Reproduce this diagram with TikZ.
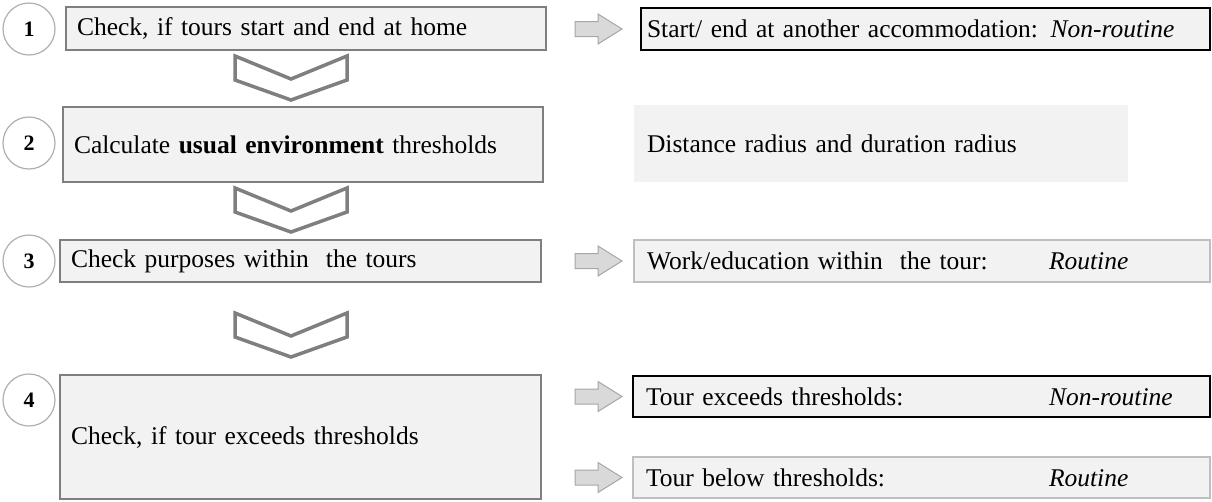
\documentclass[tikz,border=0pt]{standalone}
\usepackage{fontspec}
\setmainfont{Liberation Serif}
\usetikzlibrary{calc}
\definecolor{boxfill}{RGB}{242,242,242}
\definecolor{stepgray}{RGB}{128,126,128}
\definecolor{lightline}{RGB}{191,191,191}
\definecolor{arrowfill}{RGB}{217,217,217}
\definecolor{arrowline}{RGB}{166,166,166}
\definecolor{circline}{RGB}{175,175,175}
\begin{document}
\begin{tikzpicture}[x=1pt, y=-1pt,
    every node/.style={font=\fontsize{25.5}{30}\selectfont, inner ysep=0pt, outer sep=0pt},
    stepbox/.style={draw=stepgray, line width=2.5pt, fill=boxfill, anchor=north west, align=left, inner xsep=11pt},
    resbox/.style={fill=boxfill, line width=2.5pt, anchor=north west, align=left, inner xsep=13pt},
    numcirc/.style={circle, draw=circline, line width=1.2pt, fill=white, minimum size=52pt, inner sep=0pt, font=\fontsize{22}{24}\selectfont\bfseries},
    chevron/.style={draw=stepgray, line width=3.5pt, fill=white, line join=miter},
    blockarr/.style={draw=arrowline, line width=1pt, fill=arrowfill}]
    \useasboundingbox (0,0) rectangle (1212,501);
    % steps on the left
    \node[numcirc] (n1) at (29,29) {1};
    \node[numcirc] (n2) at (29,143) {2};
    \node[numcirc] (n3) at (29,261) {3};
    \node[numcirc] (n4) at (29,400) {4};
    \node[stepbox, text width=458pt, minimum height=43pt] (s1) at (66,7) {Check, if tours start and end at home};
    \node[stepbox, text width=458pt, minimum height=75pt] (s2) at (63,107) {Calculate \textbf{usual environment} thresholds};
    \node[stepbox, text width=459pt, minimum height=42pt] (s3) at (60,240) {Check purposes within\ \ the tours};
    \node[stepbox, text width=459pt, minimum height=124pt] (s4) at (60,375) {Check, if tour exceeds thresholds};
    \foreach \y in {56,188,313}
        \draw[chevron] (235,\y) -- (291,\y+23) -- (347,\y) -- (347,\y+24) -- (291,\y+44) -- (235,\y+24) -- cycle;
    % results on the right
    \node[resbox, draw=black, inner xsep=6pt, text width=557pt, minimum height=42pt] (r1) at (641,8) {Start/ end at another accommodation: \textit{Non-routine}};
    \node[resbox, text width=468pt, minimum height=77pt] (r2) at (634,105) {Distance radius and duration radius};
    \node[resbox, draw=lightline, text width=550pt, minimum height=42pt] (r3) at (634,240) {\makebox[402pt][l]{Work/education within\ \ the tour:}\textit{Routine}};
    \node[resbox, draw=black, text width=551pt, minimum height=41pt] (r4a) at (633,376) {\makebox[403pt][l]{Tour exceeds thresholds:}\textit{Non-routine}};
    \node[resbox, draw=lightline, text width=551pt, minimum height=41pt] (r4b) at (633,457) {\makebox[403pt][l]{Tour below thresholds:}\textit{Routine}};
    \coordinate (tipx) at (622,0);
    \foreach \r in {r1,r3,r4a,r4b}
        \draw[blockarr] (tipx |- \r.west) -- ++(-24,-15) -- ++(0,7.5) -- ++(-23,0) -- ++(0,15) -- ++(23,0) -- ++(0,7.5) -- cycle;
\end{tikzpicture}
\end{document}
